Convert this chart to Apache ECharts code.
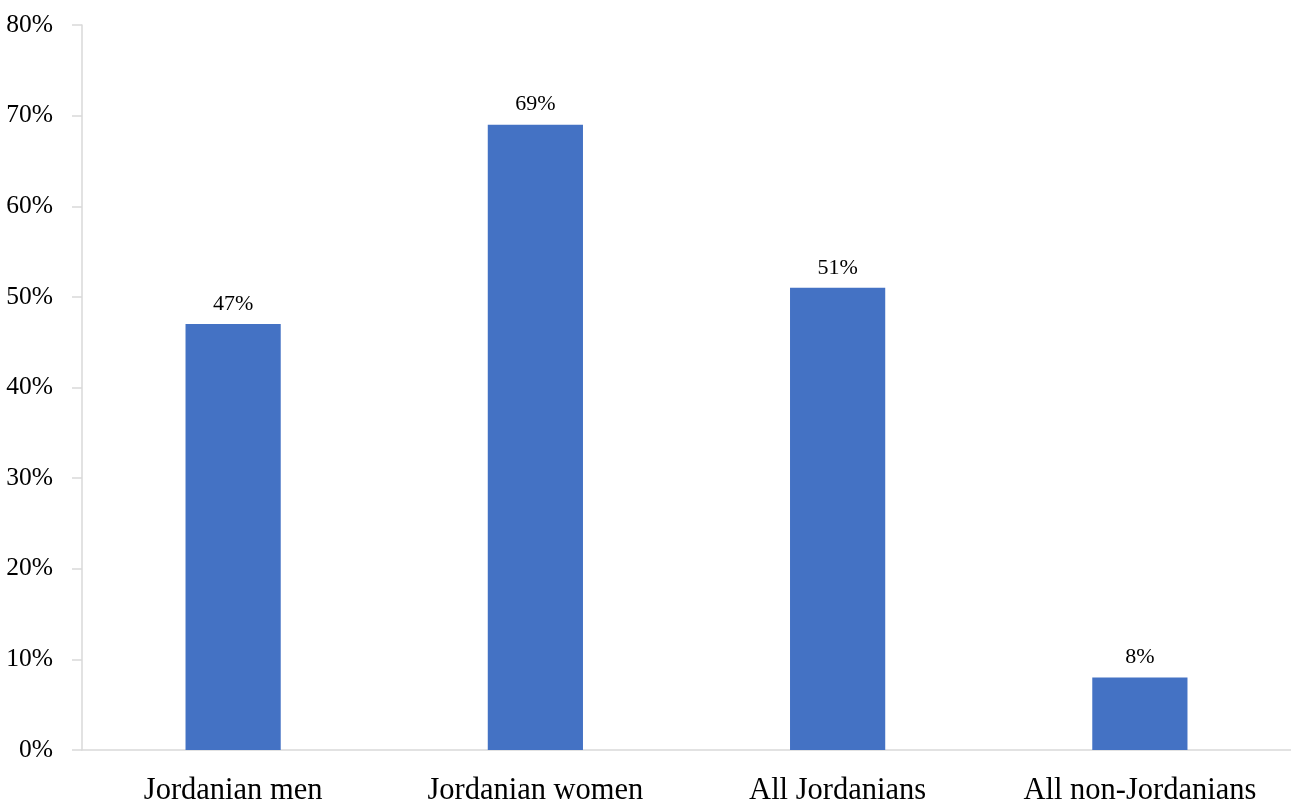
<!DOCTYPE html>
<html>
<head>
<meta charset="utf-8">
<script src="https://cdn.jsdelivr.net/npm/echarts@6/dist/echarts.min.js"></script>
<style>
  html, body { margin: 0; padding: 0; background: #ffffff; }
  #chart { width: 1291px; height: 803px; }
</style>
</head>
<body>
<div id="chart"></div>
<script>
// Share of each group, in percent
const categories = ['Jordanian men', 'Jordanian women', 'All Jordanians', 'All non-Jordanians'];
const shares = [47, 69, 51, 8];
const yTicks = [0, 10, 20, 30, 40, 50, 60, 70, 80];

const serif = '"Liberation Serif", "DejaVu Serif", serif';
const chart = echarts.init(document.getElementById('chart'));

chart.setOption({
  backgroundColor: '#ffffff',
  animation: false,
  grid: {
    left: 82, right: 0, top: 25, bottom: 53,
    containLabel: false, outerBoundsMode: 'none'
  },
  xAxis: {
    type: 'category',
    data: categories,
    axisLine: { show: true, lineStyle: { color: '#d9d9d9', width: 1.5 } },
    axisTick: { show: false },
    axisLabel: { color: '#000', fontFamily: serif, fontSize: 30.5, margin: 25, interval: 0 }
  },
  yAxis: {
    type: 'value',
    min: yTicks[0],
    max: yTicks[yTicks.length - 1],
    interval: 10,
    axisLine: { show: true, lineStyle: { color: '#d9d9d9', width: 1.5 } },
    axisTick: { show: true, length: 10, lineStyle: { color: '#d9d9d9', width: 1.5 } },
    splitLine: { show: false },
    axisLabel: {
      color: '#000', fontFamily: serif, fontSize: 25.5, margin: 29,
      formatter: v => v + '%'
    }
  },
  series: [{
    type: 'bar',
    data: shares,
    barWidth: '31.5%',
    itemStyle: { color: '#4472c4' },
    label: {
      show: true, position: 'top', distance: 9,
      color: '#000', fontFamily: serif, fontSize: 22,
      formatter: p => p.value + '%'
    }
  }]
});
</script>
</body>
</html>
